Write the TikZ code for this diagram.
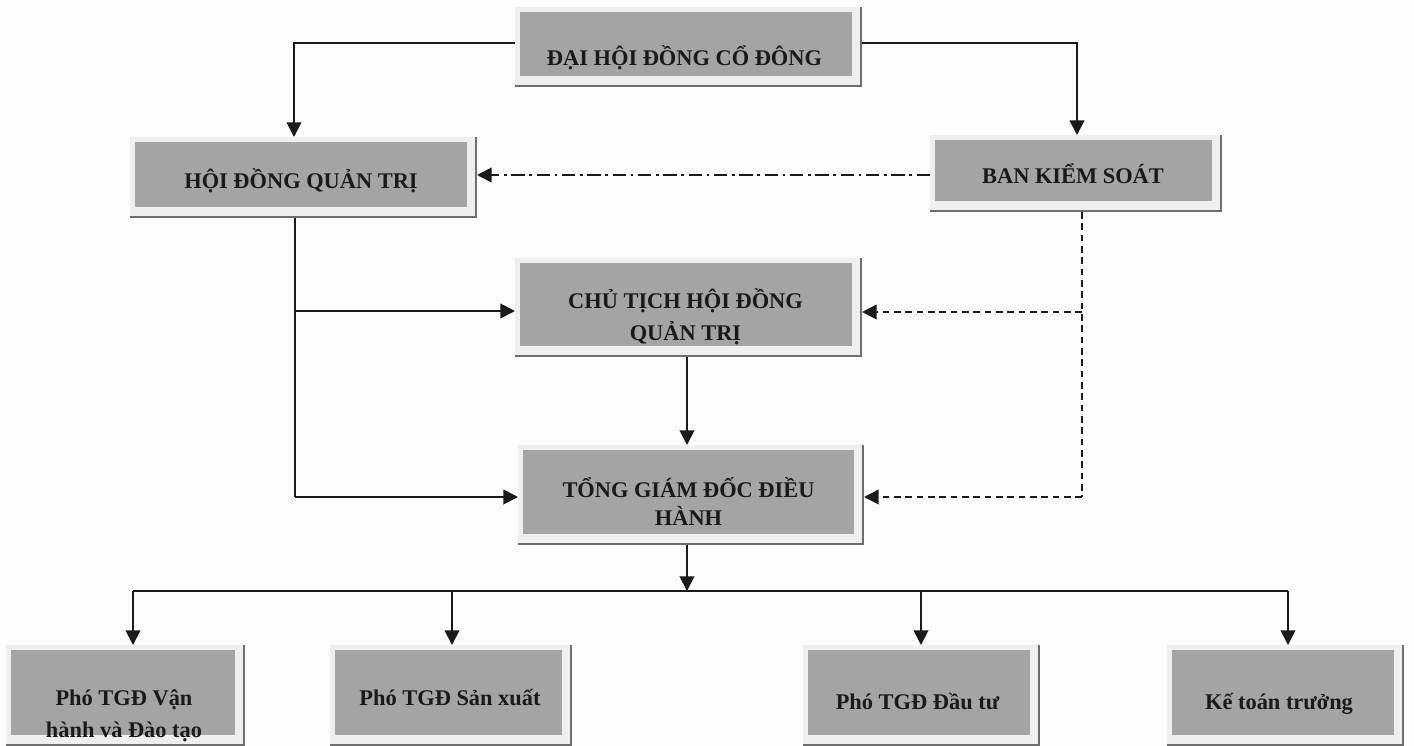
\documentclass[tikz,border=0pt]{standalone}
\usepackage{fontspec}
\setmainfont{Liberation Serif}
\usetikzlibrary{arrows.meta}
\definecolor{boxgrey}{HTML}{A4A4A4}
\definecolor{framecol}{HTML}{EFEFEF}
\definecolor{shadowcol}{HTML}{6E6E6E}
\definecolor{inkcol}{HTML}{1A1A1A}
\definecolor{bgcol}{HTML}{FCFCFC}
\begin{document}
\begin{tikzpicture}[x=0.75pt,y=-0.75pt,
  bx/.style 2 args={rectangle, inner sep=0pt, outer sep=0pt, fill=framecol,
    minimum width=#1*0.75pt, minimum height=#2*0.75pt,
    path picture={
      \fill[boxgrey] ([shift={(3.75pt,8.25pt)}]path picture bounding box.south west)
        rectangle ([shift={(-7.5pt,-3.75pt)}]path picture bounding box.north east);
      \draw[shadowcol, line width=1.3pt]
        ([shift={(-0.65pt,0pt)}]path picture bounding box.north east)
        -- ([shift={(-0.65pt,0.65pt)}]path picture bounding box.south east)
        -- ([shift={(0pt,0.65pt)}]path picture bounding box.south west);
    }},
  tx/.style={font=\bfseries\fontsize{16.8}{24}\selectfont, align=center,
    inner sep=0pt, anchor=base, text=inkcol},
  arr/.style={draw=inkcol, line width=1.4pt, -{Triangle[length=11pt,width=11pt]}},
  ln/.style={draw=inkcol, line width=1.4pt},
  dashdotline/.style={draw=inkcol, line width=1.3pt,
    dash pattern=on 10pt off 3.5pt on 2pt off 3.5pt},
  dashline/.style={draw=inkcol, line width=1.2pt, dash pattern=on 5pt off 3.5pt}
]
\fill[bgcol] (0,0) rectangle (1414,746);
\useasboundingbox (0,0) rectangle (1414,746);

% boxes
\node[bx={347}{80}]  (dhd)  at (688.5,47)   {};
\node[bx={347}{81}]  (hdqt) at (303.5,177.5) {};
\node[bx={292}{77}]  (bks)  at (1076,173.5)  {};
\node[bx={347}{99}]  (ct)   at (688.5,307.5) {};
\node[bx={346}{100}] (tgd)  at (691,495)     {};
\node[bx={239}{101}] (b1)   at (125.5,695.5) {};
\node[bx={242}{101}] (b2)   at (451,695.5)   {};
\node[bx={237}{101}] (b3)   at (921.5,695.5) {};
\node[bx={237}{101}] (b4)   at (1285.5,695.5) {};

% texts (base anchor of a two-line text is its last line)
\node[tx] (tdhd)  at (684.5,65)  {ĐẠI HỘI ĐỒNG CỔ ĐÔNG};
\node[tx] (thdqt) at (301,188)   {HỘI ĐỒNG QUẢN TRỊ};
\node[tx] (tbks)  at (1073,183)  {BAN KIỂM SOÁT};
\node[tx] (tct)   at (685.5,340) {CHỦ TỊCH HỘI ĐỒNG\\QUẢN TRỊ};
\node[tx, font=\bfseries\fontsize{16.8}{21}\selectfont] (ttgd) at (688.5,525) {TỔNG GIÁM ĐỐC ĐIỀU\\HÀNH};
\node[tx] (tb1)   at (124,737)   {Phó TGĐ Vận\\hành và Đào tạo};
\node[tx] (tb2)   at (450,705)   {Phó TGĐ Sản xuất};
\node[tx] (tb3)   at (917.5,709) {Phó TGĐ Đầu tư};
\node[tx] (tb4)   at (1279,709)  {Kế toán trưởng};

% top connectors
\draw[arr] (dhd.west |- 0,43) -| (294,0 |- hdqt.north);
\draw[arr] (dhd.east |- 0,43) -| (1077,0 |- bks.north);

% supervision (dash-dot)
\draw[dashdotline, -{Triangle[length=11pt,width=11pt]}] (bks.west |- 0,175) -- (hdqt.east |- 0,175);

% HDQT to CT and TGD
\coordinate (hq1) at (295,311);
\coordinate (hq2) at (295,497);
\draw[ln] (295,0 |- hdqt.south) -- (hq2);
\draw[arr] (hq1) -- (ct.west |- hq1);
\draw[arr] (hq2) -- (tgd.west |- hq2);

% BKS dashed
\coordinate (bk1) at (1082,312);
\coordinate (bk2) at (1082,497);
\draw[dashline] (1082,0 |- bks.south) -- (bk2);
\draw[dashline, -{Triangle[length=11pt,width=11pt]}] (bk1) -- (ct.east |- bk1);
\draw[dashline, -{Triangle[length=11pt,width=11pt]}] (bk2) -- (tgd.east |- bk2);

% CT to TGD
\draw[arr] (687,0 |- ct.south) -- (687,0 |- tgd.north);

% TGD to bus
\coordinate (busc) at (687,591);
\draw[arr] (687,0 |- tgd.south) -- (busc);
\coordinate (bus1) at (133,591);
\coordinate (bus2) at (452,591);
\coordinate (bus3) at (921,591);
\coordinate (bus4) at (1288,591);
\draw[ln] (bus1) -- (bus4);
\draw[arr] (bus1) -- (bus1 |- b1.north);
\draw[arr] (bus2) -- (bus2 |- b2.north);
\draw[arr] (bus3) -- (bus3 |- b3.north);
\draw[arr] (bus4) -- (bus4 |- b4.north);
\end{tikzpicture}
\end{document}
